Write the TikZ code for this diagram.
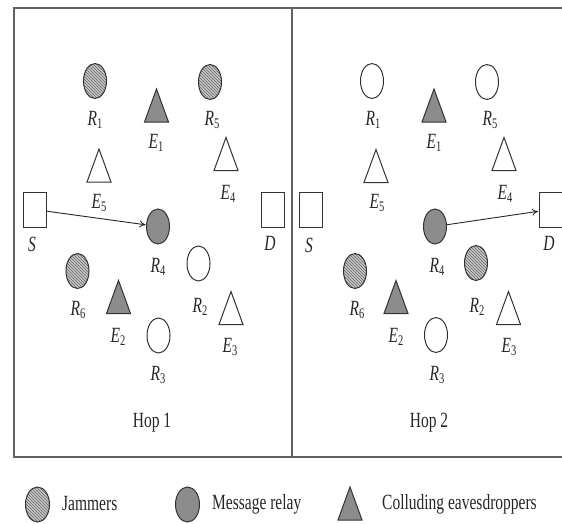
\documentclass[tikz,border=0pt]{standalone}
\usepackage{fontspec}
\setmainfont{Liberation Serif}
\usepackage{graphicx}
\usetikzlibrary{shapes.geometric,patterns,arrows.meta}
\newcommand\stretchtxt[1]{\scalebox{1}[1.4]{#1}}
\newcommand\nlab[2]{\stretchtxt{\textit{#1}\raisebox{-0.35ex}{\fontsize{10.5}{11}\selectfont #2}}}
\newcommand\tri[3]{%
  \coordinate (#1) at (#2);
  \draw[tristyle,#3] (#1) ++(-12,16.5) -- ++(24,0) -- ++(-12,-33) -- cycle;}
\tikzset{
  framestyle/.style={line width=1.8pt, draw=black!62},
  nd/.style={draw=black!80, line width=1pt},
  circbase/.style={ellipse, nd, minimum width=23pt, minimum height=35pt, inner sep=0pt},
  relayc/.style={circbase, fill=black!45},
  openc/.style={circbase, fill=white},
  jamc/.style={circbase, preaction={fill=black!22}, pattern=north west lines, pattern color=black!60},
  sqnode/.style={rectangle, nd, fill=white, minimum width=23pt, minimum height=35pt, inner sep=0pt},
  tristyle/.style={draw=black!80, line width=1pt, line join=miter},
  trifill/.style={fill=black!45},
  triopen/.style={fill=white},
  lbl/.style={font=\fontsize{15.5}{18}\selectfont, inner sep=0pt, text=black!85},
  arr/.style={draw=black!85, line width=0.9pt, -{To[length=6pt,width=7pt]}, shorten >=0.5pt}
}
\begin{document}
\begin{tikzpicture}[x=1pt,y=-1pt]
\useasboundingbox (0,0) rectangle (562,523);
% frame
\draw[framestyle] (562,8) -- (14,8) -- (14,457) -- (562,457);
\draw[framestyle] (292,8) -- (292,457);

% ---------- Hop 1 ----------
\node[jamc] (R1a) at (95,81) {};
\node[lbl] (lR1a) at (95,120) {\nlab{R}{1}};
\tri{E1a}{156.5,105.5}{trifill}
\node[lbl] (lE1a) at (156,143) {\nlab{E}{1}};
\node[jamc] (R5a) at (210,82) {};
\node[lbl] (lR5a) at (212,120) {\nlab{R}{5}};
\tri{E5a}{99,165.5}{triopen}
\node[lbl] (lE5a) at (99,203) {\nlab{E}{5}};
\tri{E4a}{226,154}{triopen}
\node[lbl] (lE4a) at (228,194) {\nlab{E}{4}};
\node[sqnode] (Sa) at (34.5,209.5) {};
\node[lbl] (lSa) at (32,244) {\stretchtxt{\textit{S}}};
\node[sqnode] (Da) at (272.5,209.5) {};
\node[lbl] (lDa) at (270,243) {\stretchtxt{\textit{D}}};
\node[relayc] (R4a) at (158,226.5) {};
\node[lbl] (lR4a) at (158,267) {\nlab{R}{4}};
\node[openc] (R2a) at (198.5,263.5) {};
\node[lbl] (lR2a) at (200,307) {\nlab{R}{2}};
\node[jamc] (R6a) at (77.5,271) {};
\node[lbl] (lR6a) at (78,310) {\nlab{R}{6}};
\tri{E2a}{118.5,297}{trifill}
\node[lbl] (lE2a) at (118,337) {\nlab{E}{2}};
\tri{E3a}{231,308}{triopen}
\node[lbl] (lE3a) at (230,347) {\nlab{E}{3}};
\node[openc] (R3a) at (158.5,335.5) {};
\node[lbl] (lR3a) at (158,375) {\nlab{R}{3}};
\node[lbl] (hop1) at (152,423) {\stretchtxt{Hop 1}};
\draw[arr] (Sa) -- (R4a);

% ---------- Hop 2 ----------
\node[openc] (R1b) at (372,81) {};
\node[lbl] (lR1b) at (373,120) {\nlab{R}{1}};
\tri{E1b}{434,105.5}{trifill}
\node[lbl] (lE1b) at (434,143) {\nlab{E}{1}};
\node[openc] (R5b) at (487,82) {};
\node[lbl] (lR5b) at (490,120) {\nlab{R}{5}};
\tri{E5b}{376,166}{triopen}
\node[lbl] (lE5b) at (377,203) {\nlab{E}{5}};
\tri{E4b}{504,154}{triopen}
\node[lbl] (lE4b) at (505,194) {\nlab{E}{4}};
\node[sqnode] (Sb) at (311,209.5) {};
\node[lbl] (lSb) at (309,245) {\stretchtxt{\textit{S}}};
\node[sqnode] (Db) at (550.5,209.5) {};
\node[lbl] (lDb) at (549,243) {\stretchtxt{\textit{D}}};
\node[relayc] (R4b) at (435,226.5) {};
\node[lbl] (lR4b) at (437,267) {\nlab{R}{4}};
\node[jamc] (R6b) at (355,271) {};
\node[lbl] (lR6b) at (357,310) {\nlab{R}{6}};
\tri{E2b}{396,297}{trifill}
\node[lbl] (lE2b) at (396,337) {\nlab{E}{2}};
\node[jamc] (R2b) at (476,263) {};
\node[lbl] (lR2b) at (477,307) {\nlab{R}{2}};
\tri{E3b}{508.5,308}{triopen}
\node[lbl] (lE3b) at (509,347) {\nlab{E}{3}};
\node[openc] (R3b) at (436,335) {};
\node[lbl] (lR3b) at (437,375) {\nlab{R}{3}};
\node[lbl] (hop2) at (429,423) {\stretchtxt{Hop 2}};
\draw[arr] (R4b) -- (Db);

% ---------- Legend ----------
\node[jamc, minimum width=24pt, minimum height=35pt] (legJ) at (37.5,504.5) {};
\node[lbl, anchor=west] (legJt) at (62,503) {\stretchtxt{Jammers}};
\node[relayc, minimum width=24pt, minimum height=35pt] (legR) at (187.5,504.5) {};
\node[lbl, anchor=west] (legRt) at (212,504) {\stretchtxt{Message relay}};
\tri{legE}{350,503.5}{trifill}
\node[lbl, anchor=west] (legEt) at (382,504) {\stretchtxt{Colluding eavesdroppers}};
\end{tikzpicture}
\end{document}
